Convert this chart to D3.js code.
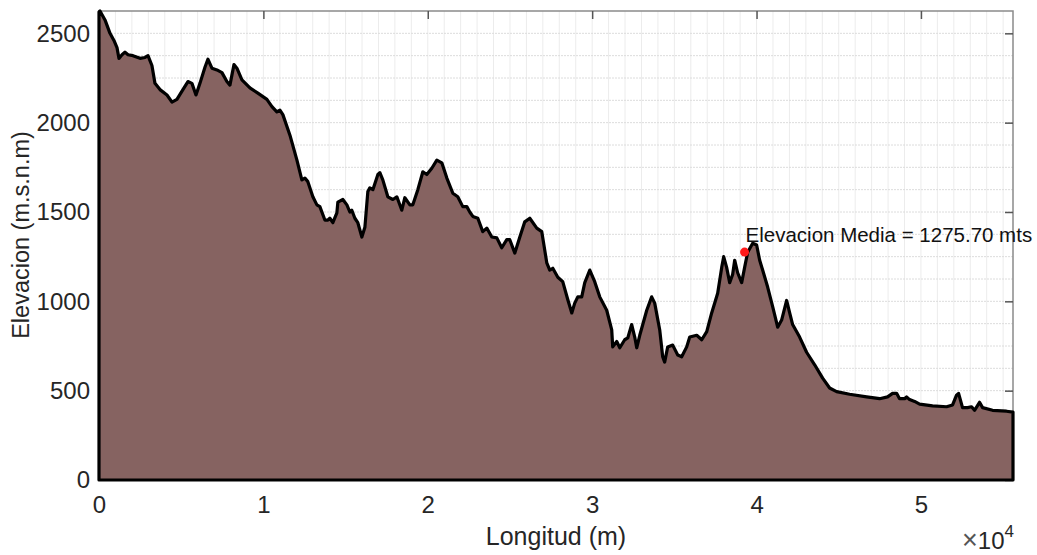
<!DOCTYPE html>
<html>
<head>
<meta charset="utf-8">
<script src="https://cdn.jsdelivr.net/npm/d3@7"></script>
<style>
    body { margin: 0; background: #fff; }
    svg { display: block; font-family: "Liberation Sans", Arial, sans-serif; }
</style>
</head>
<body>
<div id="chart"></div>
<script>
// perfil de elevacion: distancia (m) y elevacion (m.s.n.m)
var distancia = [0, 60, 365, 670, 910, 1095, 1215, 1400, 1580, 1765, 2065, 2495, 2800, 2980, 3220, 3405,
    3710, 4135, 4440, 4740, 5105, 5410, 5655, 5900, 6140, 6445, 6625, 6870, 7175, 7480, 7780, 7965,
    8210, 8390, 8695, 9180, 9665, 10215, 10520, 10820, 11005, 11185, 11615, 12040, 12340, 12525, 12705,
    13010, 13255, 13435, 13740, 13925, 14045, 14225, 14470, 14530, 14835, 15080, 15260, 15380, 15565,
    15745, 15990, 16175, 16355, 16475, 16660, 16965, 17085, 17265, 17570, 17875, 18120, 18420, 18605,
    18910, 19090, 19395, 19700, 19940, 20245, 20550, 20855, 21160, 21525, 21825, 22130, 22375, 22555,
    22740, 23045, 23345, 23590, 23895, 24200, 24500, 24805, 24990, 25295, 25600, 25900, 26205, 26630,
    26935, 27240, 27420, 27605, 27910, 28210, 28515, 28760, 28940, 29125, 29365, 29550, 29855, 30155,
    30460, 30885, 31190, 31250, 31495, 31680, 31980, 32165, 32405, 32590, 32710, 32895, 33320, 33620,
    33805, 34110, 34290, 34410, 34595, 34900, 35205, 35445, 35750, 35935, 36360, 36665, 36970, 37270,
    37635, 37880, 38000, 38180, 38365, 38545, 38670, 38850, 39095, 39275, 39460, 39765, 40005, 40190,
    40370, 40675, 40980, 41285, 41525, 41830, 42015, 42195, 42620, 43045, 43535, 44020, 44445, 44870,
    45660, 46695, 47485, 47970, 48275, 48520, 48700, 49005, 49125, 49310, 49615, 49920, 50705, 51560,
    51925, 52165, 52290, 52530, 52835, 53080, 53260, 53565, 53750, 54355, 55205, 55600];
var elevacion = [2620, 2625, 2575, 2500, 2460, 2420, 2360, 2380, 2395, 2380, 2375, 2360, 2365, 2375, 2320, 2220,
    2185, 2155, 2115, 2130, 2185, 2230, 2220, 2155, 2220, 2310, 2355, 2305, 2295, 2280, 2230, 2210,
    2325, 2305, 2240, 2195, 2165, 2130, 2090, 2060, 2070, 2045, 1930, 1790, 1680, 1690, 1670,
    1585, 1540, 1530, 1455, 1455, 1465, 1440, 1495, 1555, 1570, 1540, 1500, 1510, 1465,
    1440, 1360, 1415, 1615, 1635, 1625, 1710, 1720, 1680, 1585, 1570, 1585, 1510, 1580,
    1540, 1540, 1625, 1725, 1710, 1745, 1790, 1775, 1690, 1605, 1585, 1530, 1530, 1500,
    1475, 1465, 1390, 1410, 1360, 1355, 1300, 1345, 1345, 1270, 1360, 1445, 1465, 1410,
    1390, 1215, 1175, 1185, 1135, 1110, 1010, 935, 990, 1025, 1025, 1105, 1175, 1110,
    1025, 950, 840, 745, 775, 740, 785, 795, 870, 800, 740, 810, 950, 1025,
    990, 840, 690, 660, 745, 755, 700, 690, 745, 800, 810, 785, 830, 935,
    1045, 1190, 1250, 1190, 1105, 1150, 1230, 1160, 1105, 1190, 1275, 1325, 1315, 1230,
    1175, 1080, 970, 855, 895, 1005, 935, 870, 800, 715, 645, 570, 515, 495,
    480, 465, 455, 465, 485, 485, 455, 455, 465, 450, 440, 425, 415, 410,
    420, 475, 485, 405, 405, 410, 390, 435, 405, 390, 385, 380];

var xTicks = [0, 10000, 20000, 30000, 40000, 50000];
var yTicks = [0, 500, 1000, 1500, 2000, 2500];

var elevMedia = 1275.70;
var distMedia = 39270;

var width = 1037, height = 555;
var pLeft = 99, pRight = 1013, pTop = 11, pBottom = 480;

var x = d3.scaleLinear().domain([0, 55600]).range([pLeft, pRight]);
var y = d3.scaleLinear().domain([0, 2625]).range([pBottom, pTop]);

var svg = d3.select("#chart").append("svg")
    .attr("width", width)
    .attr("height", height);

// grid (menor + mayor)
var grid = svg.append("g");
grid.selectAll("line.gx")
    .data(d3.range(0, 55600, 1000))
    .enter().append("line")
    .attr("x1", function (d) { return x(d); })
    .attr("x2", function (d) { return x(d); })
    .attr("y1", pTop).attr("y2", pBottom)
    .attr("stroke", "#ececec")
    .attr("stroke-width", 1);
grid.selectAll("line.gy")
    .data(d3.range(0, 2625, 125))
    .enter().append("line")
    .attr("x1", pLeft).attr("x2", pRight)
    .attr("y1", function (d) { return y(d); })
    .attr("y2", function (d) { return y(d); })
    .attr("stroke", "#dcdcdc")
    .attr("stroke-dasharray", "2,1")
    .attr("stroke-width", 1);

// caja
svg.append("rect")
    .attr("x", pLeft).attr("y", pTop)
    .attr("width", pRight - pLeft).attr("height", pBottom - pTop)
    .attr("fill", "none")
    .attr("stroke", "#8a8a8a")
    .attr("stroke-width", 1.5);

// ticks interiores arriba y a la derecha
svg.append("g")
    .attr("transform", "translate(0," + pTop + ")")
    .call(d3.axisTop(x).tickValues(xTicks).tickSize(-8).tickFormat(""))
    .call(function (g) { g.select(".domain").remove(); })
    .selectAll("line").attr("stroke", "#555").attr("stroke-width", 1.5);
svg.append("g")
    .attr("transform", "translate(" + pRight + ",0)")
    .call(d3.axisRight(y).tickValues(yTicks).tickSize(-8).tickFormat(""))
    .call(function (g) { g.select(".domain").remove(); })
    .selectAll("line").attr("stroke", "#555").attr("stroke-width", 1.5);

var perfil = distancia.map(function (d, i) { return { d: d, e: elevacion[i] }; });

var area = d3.area()
    .x(function (p) { return x(p.d); })
    .y0(y(0))
    .y1(function (p) { return y(p.e); });

svg.append("path")
    .datum(perfil)
    .attr("d", area)
    .attr("fill", "#866361")
    .attr("stroke", "#000")
    .attr("stroke-width", 3.2)
    .attr("stroke-linejoin", "round");

// ejes
var xAxis = svg.append("g")
    .attr("transform", "translate(0," + pBottom + ")")
    .call(d3.axisBottom(x).tickValues(xTicks).tickSize(0).tickPadding(16)
        .tickFormat(function (d) { return d / 10000; }));
var yAxis = svg.append("g")
    .attr("transform", "translate(" + pLeft + ",0)")
    .call(d3.axisLeft(y).tickValues(yTicks).tickSize(0).tickPadding(9)
        .tickFormat(d3.format("d")));
[xAxis, yAxis].forEach(function (g) {
    g.select(".domain").remove();
    g.selectAll("text")
        .attr("fill", "#262626")
        .style("font-size", "24px")
        .style("font-family", "Liberation Sans, Arial, sans-serif");
});

svg.append("text")
    .attr("x", (pLeft + pRight) / 2)
    .attr("y", 545)
    .attr("text-anchor", "middle")
    .attr("fill", "#262626")
    .style("font-size", "25px")
    .text("Longitud (m)");

svg.append("text")
    .attr("transform", "translate(29,235) rotate(-90)")
    .attr("text-anchor", "middle")
    .attr("fill", "#262626")
    .style("font-size", "23.5px")
    .text("Elevacion (m.s.n.m)");

var expo = svg.append("text")
    .attr("x", 1014)
    .attr("y", 549)
    .attr("text-anchor", "end")
    .attr("fill", "#262626")
    .style("font-size", "24px");
expo.append("tspan").style("font-size", "27px").style("fill", "#555").text("\u00d7");
expo.append("tspan").text("10");
expo.append("tspan").attr("dy", -12).style("font-size", "17px").text("4");

// elevacion media
svg.append("circle")
    .attr("cx", x(distMedia))
    .attr("cy", y(elevMedia))
    .attr("r", 4.5)
    .attr("fill", "#ff1a1a");
svg.append("text")
    .attr("x", x(distMedia) + 1)
    .attr("y", y(elevMedia) - 10)
    .attr("fill", "#111")
    .style("font-size", "20.5px")
    .text("Elevacion Media = " + elevMedia.toFixed(2) + " mts");
</script>
</body>
</html>
